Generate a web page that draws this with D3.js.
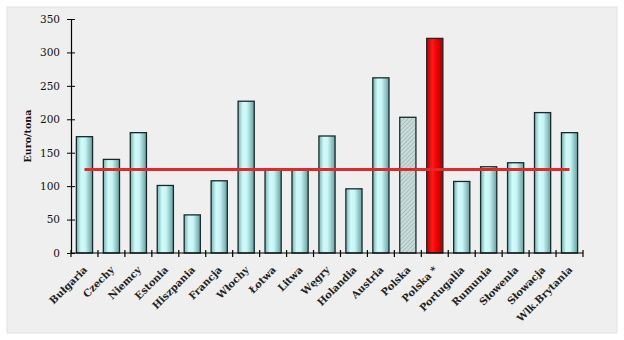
<!DOCTYPE html>
<html>
<head>
<meta charset="utf-8">
<script src="https://cdn.jsdelivr.net/npm/d3@7"></script>
<style>
  html, body { margin: 0; padding: 0; background: #ffffff; }
  svg { display: block; }
</style>
</head>
<body>
<svg id="chart" width="624" height="340"></svg>
<script>
// Ceny w euro za tonę w krajach UE
const categories = ["Bułgaria", "Czechy", "Niemcy", "Estonia", "Hiszpania", "Francja", "Włochy",
  "Łotwa", "Litwa", "Węgry", "Holandia", "Austria", "Polska", "Polska *", "Portugalia",
  "Rumunia", "Słowenia", "Słowacja", "Wlk.Brytania"];
const values = [174, 140, 180, 101, 57, 108, 227, 124, 124, 175, 96, 262, 203, 321, 107, 129, 135, 210, 180];
// styl słupka: zwykły, kreskowany, wyróżniony
const barKinds = ["n", "n", "n", "n", "n", "n", "n", "n", "n", "n", "n", "n", "h", "r", "n", "n", "n", "n", "n"];
const averageValue = 125;
const yTicks = [0, 50, 100, 150, 200, 250, 300, 350];
const yTitle = "Euro/tona";

const svg = d3.select("#chart");
const margin = { left: 71, right: 41, top: 19, bottom: 87 };
const W = 624, H = 340;

// tło panelu
svg.append("rect").attr("x", 7).attr("y", 7).attr("width", 610).attr("height", 326)
  .attr("fill", "#efefef").attr("stroke", "#e2e2e2");

const defs = svg.append("defs");
const g1 = defs.append("linearGradient").attr("id", "gCyan").attr("x1", "0%").attr("x2", "100%");
[["0%", "#74b4b4"], ["30%", "#d2fafa"], ["55%", "#c8f5f5"], ["100%", "#659f9f"]]
  .forEach(([o, c]) => g1.append("stop").attr("offset", o).attr("stop-color", c));
const g2 = defs.append("linearGradient").attr("id", "gRed").attr("x1", "0%").attr("x2", "100%");
[["0%", "#b80000"], ["35%", "#ff1a1a"], ["60%", "#f20000"], ["100%", "#a80000"]]
  .forEach(([o, c]) => g2.append("stop").attr("offset", o).attr("stop-color", c));
const pat = defs.append("pattern").attr("id", "hatch").attr("patternUnits", "userSpaceOnUse")
  .attr("width", 3).attr("height", 3).attr("patternTransform", "rotate(45)");
pat.append("rect").attr("width", 3).attr("height", 3).attr("fill", "#c9dcdc");
pat.append("line").attr("x1", 0).attr("y1", 0).attr("x2", 0).attr("y2", 3)
  .attr("stroke", "#8ea3a3").attr("stroke-width", 1);

const x = d3.scaleBand().domain(categories).range([margin.left, W - margin.right]).paddingInner(0.4).paddingOuter(0.2);
const y = d3.scaleLinear().domain([0, 350]).range([H - margin.bottom, margin.top]);

const fillFor = k => k === "r" ? "url(#gRed)" : (k === "h" ? "url(#hatch)" : "url(#gCyan)");

// słupki
svg.append("g").selectAll("rect").data(categories).join("rect")
  .attr("x", d => x(d))
  .attr("y", (d, i) => y(values[i]))
  .attr("width", x.bandwidth())
  .attr("height", (d, i) => y(0) - y(values[i]))
  .attr("fill", (d, i) => fillFor(barKinds[i]))
  .attr("stroke", "#1a2a2a")
  .attr("stroke-width", 1.3);

// oś Y
const yAxis = d3.axisLeft(y).tickValues(yTicks).tickSizeInner(4).tickSizeOuter(0).tickPadding(7);
const ya = svg.append("g").attr("transform", `translate(${margin.left},0)`).call(yAxis);
ya.select(".domain").attr("stroke", "#000").attr("stroke-width", 1.2);
ya.selectAll(".tick line").attr("stroke", "#000").attr("x1", -4).attr("x2", 4);
ya.selectAll(".tick text").attr("font-family", "DejaVu Serif").attr("font-size", 10.5).attr("fill", "#111");

// oś X z podziałką na granicach kategorii
const step = x.step();
const bounds = d3.range(categories.length + 1).map(i => margin.left + i * step);
const xa = svg.append("g");
xa.append("line").attr("x1", margin.left).attr("x2", W - margin.right)
  .attr("y1", y(0)).attr("y2", y(0)).attr("stroke", "#000").attr("stroke-width", 1.2);
xa.selectAll("line.t").data(bounds).join("line").attr("class", "t")
  .attr("x1", d => d).attr("x2", d => d)
  .attr("y1", y(0) - 3).attr("y2", y(0) + 4).attr("stroke", "#000").attr("stroke-width", 1.2);

xa.selectAll("text").data(categories).join("text")
  .attr("transform", d => `translate(${x(d) + x.bandwidth() / 2 + 1},${y(0) + 15}) rotate(-45)`)
  .attr("text-anchor", "end")
  .attr("dy", "0.35em")
  .attr("font-family", "DejaVu Serif")
  .attr("font-weight", "bold")
  .attr("font-size", 10)
  .attr("fill", "#222")
  .text(d => d);

// linia średniej
const first = categories[0], last = categories[categories.length - 1];
svg.append("line")
  .attr("x1", x(first) + x.bandwidth() / 2)
  .attr("x2", x(last) + x.bandwidth() / 2)
  .attr("y1", y(averageValue)).attr("y2", y(averageValue))
  .attr("stroke", "#e02a2a").attr("stroke-width", 3);

// tytuł osi Y
svg.append("text")
  .attr("transform", `translate(31,136) rotate(-90)`)
  .attr("text-anchor", "middle")
  .attr("font-family", "DejaVu Serif")
  .attr("font-weight", "bold")
  .attr("font-size", 9.5)
  .attr("fill", "#111")
  .text(yTitle);
</script>
</body>
</html>
